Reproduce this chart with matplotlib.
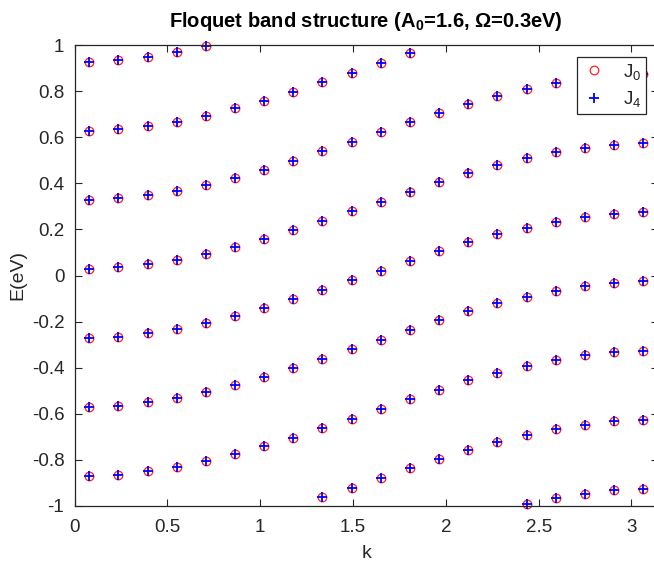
import numpy as np
import matplotlib
matplotlib.use("Agg")
import matplotlib.pyplot as plt

plt.rcParams["font.family"] = ["Liberation Sans", "DejaVu Sans"]
plt.rcParams["mathtext.fontset"] = "custom"
plt.rcParams["mathtext.rm"] = "Liberation Sans"
plt.rcParams["mathtext.it"] = "Liberation Sans"
plt.rcParams["mathtext.bf"] = "Liberation Sans:bold"

nan = np.nan

# k points
k = [0.079, 0.236, 0.393, 0.550, 0.707, 0.864, 1.021, 1.178, 1.335, 1.492,
     1.649, 1.806, 1.963, 2.120, 2.277, 2.435, 2.592, 2.749, 2.906, 3.063]

# Floquet replica bands, E in eV (nan = outside the plotted window)
band_p3 = [0.928, 0.935, 0.950, 0.968, 0.994, nan, nan, nan, nan, nan,
           nan, nan, nan, nan, nan, nan, nan, nan, nan, nan]
band_p2 = [0.628, 0.635, 0.650, 0.668, 0.694, 0.725, 0.759, 0.797, 0.838, 0.879,
           0.921, 0.964, nan, nan, nan, nan, nan, nan, nan, nan]
band_p1 = [0.328, 0.335, 0.350, 0.368, 0.394, 0.425, 0.459, 0.497, 0.538, 0.579,
           0.621, 0.664, 0.705, 0.745, 0.779, 0.808, 0.834, 0.853, 0.868, 0.874]
band_0 = [0.028, 0.035, 0.050, 0.068, 0.094, 0.125, 0.159, 0.197, 0.238, 0.279,
          0.321, 0.364, 0.405, 0.445, 0.479, 0.508, 0.534, 0.553, 0.568, 0.574]
band_m1 = [-0.272, -0.265, -0.250, -0.232, -0.206, -0.175, -0.141, -0.103, -0.062, -0.021,
           0.021, 0.064, 0.105, 0.145, 0.179, 0.208, 0.234, 0.253, 0.268, 0.274]
band_m2 = [-0.572, -0.565, -0.550, -0.532, -0.506, -0.475, -0.441, -0.403, -0.362, -0.321,
           -0.279, -0.236, -0.195, -0.155, -0.121, -0.092, -0.066, -0.047, -0.032, -0.026]
band_m3 = [-0.872, -0.865, -0.850, -0.832, -0.806, -0.775, -0.741, -0.703, -0.662, -0.621,
           -0.579, -0.536, -0.495, -0.455, -0.421, -0.392, -0.366, -0.347, -0.332, -0.326]
band_m4 = [nan, nan, nan, nan, nan, nan, nan, nan, -0.962, -0.921,
           -0.879, -0.836, -0.795, -0.755, -0.721, -0.692, -0.666, -0.647, -0.632, -0.626]
band_m5 = [nan, nan, nan, nan, nan, nan, nan, nan, nan, nan,
           nan, nan, nan, nan, nan, -0.992, -0.966, -0.947, -0.932, -0.926]

bands = [band_p3, band_p2, band_p1, band_0, band_m1, band_m2, band_m3, band_m4, band_m5]

series_labels = ["J$_0$", "J$_4$"]
x_ticks = [0, 0.5, 1, 1.5, 2, 2.5, 3]
y_ticks = [-1, -0.8, -0.6, -0.4, -0.2, 0, 0.2, 0.4, 0.6, 0.8, 1]

kk = np.tile(k, len(bands))
ee = np.concatenate(bands)

axis_col = "#262626"
fig = plt.figure(figsize=(6.54, 5.61), dpi=100)
ax = fig.add_axes([74.7 / 654, 55 / 561, 583 / 654, 461 / 561])

ax.plot(kk, ee, "o", ls="none", mfc="none", mec="#ff2020", ms=6.2, mew=0.9,
        clip_on=False, label=series_labels[0])
ax.plot(kk, ee, "+", ls="none", color="#0000ff", ms=7, mew=1.3,
        clip_on=False, label=series_labels[1])

ax.set_xlim(0, np.pi)
ax.set_ylim(-1, 1)
ax.set_xticks(x_ticks)
ax.set_xticklabels([f"{t:g}" for t in x_ticks])
ax.set_yticks(y_ticks)
ax.set_yticklabels([f"{t:g}" for t in y_ticks])
ax.tick_params(direction="in", length=5, width=0.8, colors=axis_col,
               labelsize=13.5, top=True, right=True)
ax.tick_params(axis="x", pad=9)
ax.tick_params(axis="y", pad=7.5)
for s in ax.spines.values():
    s.set_color(axis_col)
    s.set_linewidth(0.9)

ax.set_xlabel("k", fontsize=14, color=axis_col, labelpad=7)
ax.set_ylabel("E(eV)", fontsize=14, color=axis_col, labelpad=4)
ax.set_title("Floquet band structure (A$_\\mathbf{0}$=1.6, Ω=0.3eV)",
             fontsize=14.5, fontweight="bold", pad=13)

leg = ax.legend(loc="upper right", bbox_to_anchor=(1 - 12 / 583, 1 - 12 / 461),
                fontsize=13.5, frameon=True, fancybox=False, borderaxespad=0,
                handlelength=1.3, handletextpad=0.9, borderpad=0.25,
                labelspacing=0.4)
leg.get_frame().set_edgecolor(axis_col)
leg.get_frame().set_linewidth(0.9)
leg.get_frame().set_alpha(1)
for t in leg.get_texts():
    t.set_color(axis_col)

fig.savefig("out.png", dpi=100)
